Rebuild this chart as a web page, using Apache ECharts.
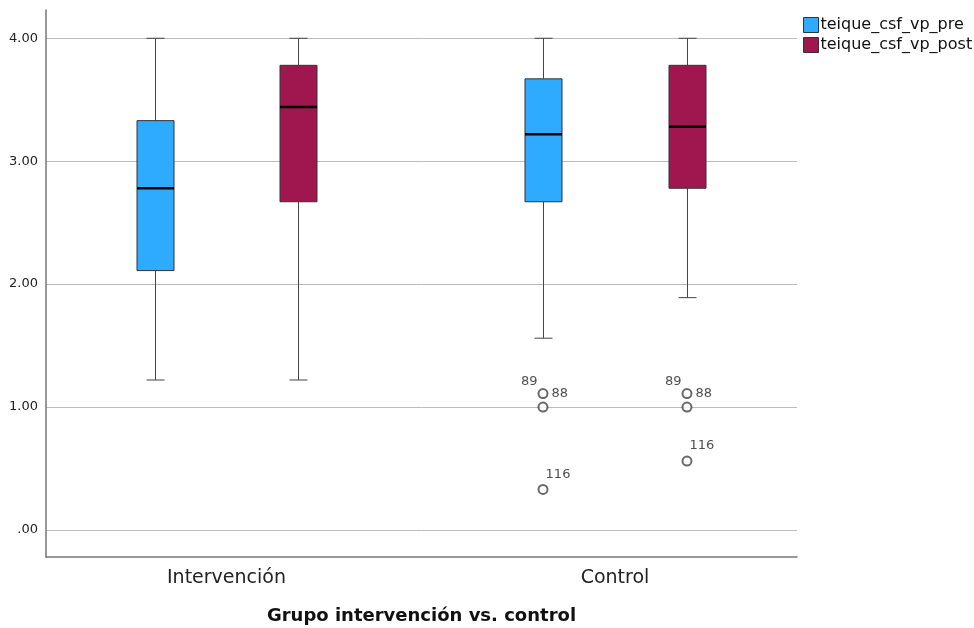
<!DOCTYPE html>
<html>
<head>
<meta charset="utf-8">
<script src="https://cdn.jsdelivr.net/npm/echarts@6/dist/echarts.min.js"></script>
<style>html,body{margin:0;padding:0;background:#fff;}#c{width:974px;height:628px;}</style>
</head>
<body>
<div id="c"></div>
<script>
// ---- data ----
const categories = ['Intervención', 'Control'];
const seriesNames = ['teique_csf_vp_pre', 'teique_csf_vp_post'];
// [min whisker, Q1, median, Q3, max whisker] per category
const preStats = [[1.22, 2.11, 2.78, 3.33, 4.00], [1.56, 2.67, 3.22, 3.67, 4.00]];
const postStats = [[1.22, 2.67, 3.44, 3.78, 4.00], [1.89, 2.78, 3.28, 3.78, 4.00]];
// outliers (Control group only)
const outlierIds = ['88', '89', '116'];
const outlierPre = [1.11, 1.00, 0.33];
const outlierPost = [1.11, 1.00, 0.56];
const yTicks = [0, 1, 2, 3, 4];

const colors = ['#2eaaff', '#a0174f'];
const dodge = 0.1853;
const BOX_W = 37, CAP_W = 18;

function boxData(stats, sign) {
  return stats.map((s, i) => [i + sign * dodge].concat(s));
}

function renderBox(color) {
  return function (params, api) {
    const x = api.value(0);
    const pLow = api.coord([x, api.value(1)]);
    const pQ1 = api.coord([x, api.value(2)]);
    const pMed = api.coord([x, api.value(3)]);
    const pQ3 = api.coord([x, api.value(4)]);
    const pHigh = api.coord([x, api.value(5)]);
    const cx = Math.round(pLow[0]) + 0.5;
    const lineStyle = { stroke: '#444', lineWidth: 1 };
    return {
      type: 'group',
      children: [
        { type: 'line', shape: { x1: cx, y1: pLow[1], x2: cx, y2: pQ1[1] }, style: lineStyle },
        { type: 'line', shape: { x1: cx, y1: pQ3[1], x2: cx, y2: pHigh[1] }, style: lineStyle },
        { type: 'line', shape: { x1: cx - CAP_W / 2, y1: pLow[1], x2: cx + CAP_W / 2, y2: pLow[1] }, style: lineStyle },
        { type: 'line', shape: { x1: cx - CAP_W / 2, y1: pHigh[1], x2: cx + CAP_W / 2, y2: pHigh[1] }, style: lineStyle },
        { type: 'rect', shape: { x: cx - BOX_W / 2, y: pQ3[1], width: BOX_W, height: pQ1[1] - pQ3[1] },
          style: { fill: color, stroke: '#333', lineWidth: 1 } },
        { type: 'line', shape: { x1: cx - BOX_W / 2, y1: pMed[1], x2: cx + BOX_W / 2, y2: pMed[1] },
          style: { stroke: '#000', lineWidth: 2.5 } }
      ]
    };
  };
}

const labelCfg = {
  '88': { position: 'right', offset: [-2, 0] },
  '89': { position: 'left', offset: [5, -25] },
  '116': { position: 'top', offset: [15, 2] }
};

function outlierData(vals, x) {
  return vals.map((v, i) => ({
    value: [x, v],
    label: Object.assign({ show: true, formatter: outlierIds[i], color: '#222', fontSize: 13,
      fontFamily: 'DejaVu Sans' }, labelCfg[outlierIds[i]])
  }));
}

const chart = echarts.init(document.getElementById('c'));
chart.setOption({
  animation: false,
  textStyle: { fontFamily: 'DejaVu Sans' },
  grid: { left: 46, right: 177, top: 10, bottom: 71, outerBoundsMode: 'none', containLabel: false },
  legend: {
    data: seriesNames.map(n => ({ name: n, icon: 'rect', itemStyle: { borderColor: '#333', borderWidth: 1 } })),
    orient: 'vertical', left: 798, top: 12, itemWidth: 15, itemHeight: 15, itemGap: 4,
    textStyle: { fontSize: 16, color: '#111', padding: [0, 0, 0, -3] }
  },
  xAxis: {
    type: 'value', min: -0.4646, max: 1.4685,
    splitLine: { show: false },
    axisLine: { show: true, onZero: false, lineStyle: { color: '#777', width: 1.5 } },
    axisTick: { show: false },
    axisLabel: { customValues: [0, 1], formatter: v => categories[Math.round(v)] || '',
      fontSize: 19, color: '#222', margin: 12 },
    name: 'Grupo intervención vs. control', nameLocation: 'middle', nameGap: 50,
    nameTextStyle: { fontSize: 18, fontWeight: 'bold', color: '#111' }
  },
  yAxis: {
    type: 'value', min: -0.22, max: 4.23,
    splitLine: { show: false },
    axisLine: { show: true, onZero: false, lineStyle: { color: '#777', width: 1.5 } },
    axisTick: { show: false },
    axisLabel: { customValues: yTicks, formatter: v => (v === 0 ? '.00' : v.toFixed(2)),
      fontSize: 13, color: '#222', margin: 8 }
  },
  series: [
    {
      type: 'line', data: [], silent: true, z: 0,
      markLine: {
        silent: true, symbol: 'none', z: 0, label: { show: false },
        lineStyle: { color: '#bbb', type: 'solid', width: 1 },
        data: yTicks.map(t => ({ yAxis: t }))
      }
    },
    {
      name: seriesNames[0], type: 'custom', z: 2, itemStyle: { color: colors[0] },
      encode: { x: 0, y: [1, 2, 3, 4, 5] },
      renderItem: renderBox(colors[0]), data: boxData(preStats, -1)
    },
    {
      name: seriesNames[1], type: 'custom', z: 2, itemStyle: { color: colors[1] },
      encode: { x: 0, y: [1, 2, 3, 4, 5] },
      renderItem: renderBox(colors[1]), data: boxData(postStats, 1)
    },
    {
      type: 'scatter', z: 3, symbol: 'emptyCircle', symbolSize: 9,
      itemStyle: { color: '#444', borderWidth: 1 },
      data: outlierData(outlierPre, 1 - dodge)
    },
    {
      type: 'scatter', z: 3, symbol: 'emptyCircle', symbolSize: 9,
      itemStyle: { color: '#444', borderWidth: 1 },
      data: outlierData(outlierPost, 1 + dodge)
    }
  ]
});
</script>
</body>
</html>
